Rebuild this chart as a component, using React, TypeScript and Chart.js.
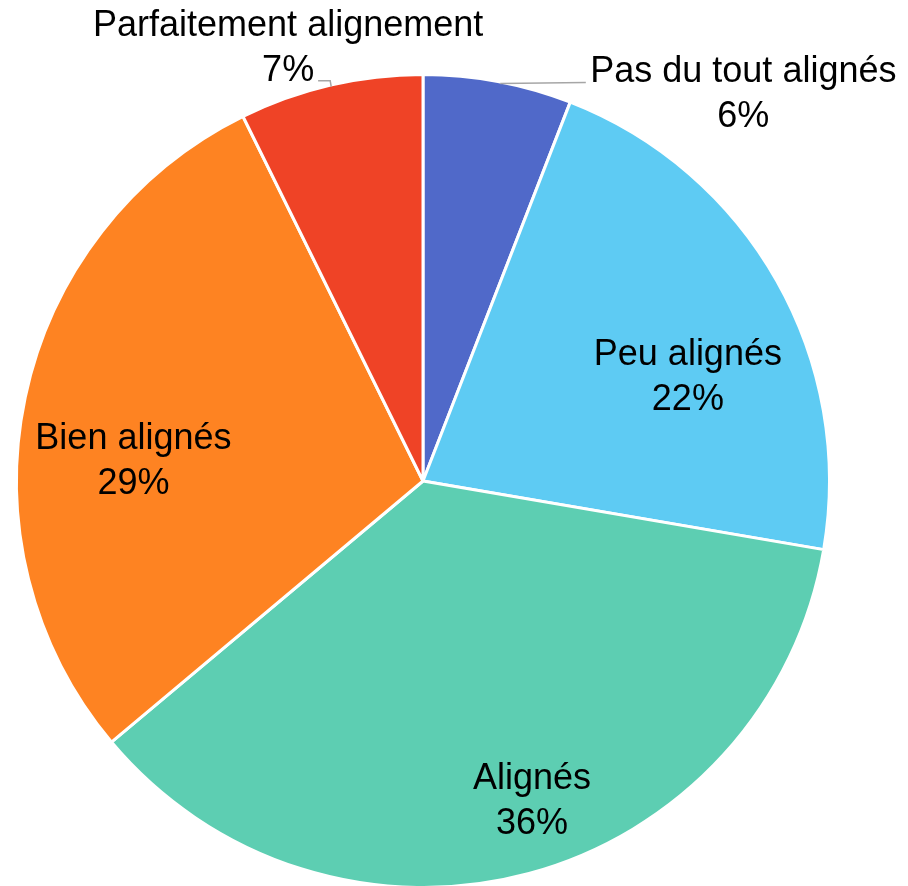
import React, { useEffect, useRef } from "react";
import { Chart, registerables } from "chart.js";

Chart.register(...registerables);

const categories = [
  "Pas du tout alignés",
  "Peu alignés",
  "Alignés",
  "Bien alignés",
  "Parfaitement alignement",
];
const values = [5.9, 21.8, 36.2, 28.8, 7.3];
const colors = ["#5069C9", "#5ECBF3", "#5DCEB2", "#FE8322", "#EF4326"];

// label anchor (first-line baseline) relative to pie centre, in units of the radius
const labelPlacement = [
  { dx: 0.791, dy: -0.985 },
  { dx: 0.654, dy: -0.286 },
  { dx: 0.269, dy: 0.76 },
  { dx: -0.715, dy: -0.079 },
  { dx: -0.333, dy: -1.099 },
];

const labelPlugin = {
  id: "pieLabels",
  afterDatasetsDraw(chart: any) {
    const meta = chart.getDatasetMeta(0);
    const ctx = chart.ctx;
    const first = meta.data[0];
    if (!first) return;
    const cx = first.x;
    const cy = first.y;
    const R = first.outerRadius - 1.5;
    const arcPt = (deg: number) => {
      const a = (deg * Math.PI) / 180;
      return { x: cx + R * Math.sin(a), y: cy - R * Math.cos(a) };
    };
    ctx.save();
    // leader lines
    ctx.strokeStyle = "#A6A6A6";
    ctx.lineWidth = 1.5;
    const p0 = arcPt(11);
    ctx.beginPath();
    ctx.moveTo(p0.x, p0.y);
    ctx.lineTo(cx + 0.402 * R, p0.y - 1);
    ctx.stroke();
    const p4 = arcPt(-13.1);
    ctx.beginPath();
    ctx.moveTo(p4.x, p4.y);
    ctx.lineTo(p4.x - 1, cy - 0.988 * R);
    ctx.lineTo(cx - 0.259 * R, cy - 0.988 * R);
    ctx.stroke();

    ctx.fillStyle = "#000000";
    ctx.font = '36px "Liberation Sans", Arial, sans-serif';
    ctx.textAlign = "center";
    ctx.textBaseline = "alphabetic";
    meta.data.forEach((_el: any, i: number) => {
      const p = labelPlacement[i];
      const x = cx + p.dx * R;
      const y = cy + p.dy * R;
      ctx.fillText(categories[i], x, y);
      ctx.fillText(Math.round(values[i]) + "%", x, y + 45);
    });
    ctx.restore();
  },
};

export default function App() {
  const ref = useRef<HTMLCanvasElement>(null);
  useEffect(() => {
    document.body.style.margin = "0";
    const chart = new Chart(ref.current as HTMLCanvasElement, {
      type: "pie",
      data: {
        labels: categories,
        datasets: [
          {
            data: values,
            backgroundColor: colors,
            borderColor: "#FFFFFF",
            borderWidth: 3,
            hoverOffset: 0,
          },
        ],
      },
      options: {
        responsive: false,
        animation: false,
        radius: 406.5,
        layout: { padding: { left: 18, right: 80, top: 76, bottom: 0 } },
        plugins: {
          legend: { display: false },
          tooltip: { enabled: false },
        },
      } as any,
      plugins: [labelPlugin],
    });
    return () => chart.destroy();
  }, []);
  return (
    <div style={{ width: 908, height: 886, background: "#fff" }}>
      <canvas ref={ref} width={908} height={886} style={{ display: "block" }} />
    </div>
  );
}
